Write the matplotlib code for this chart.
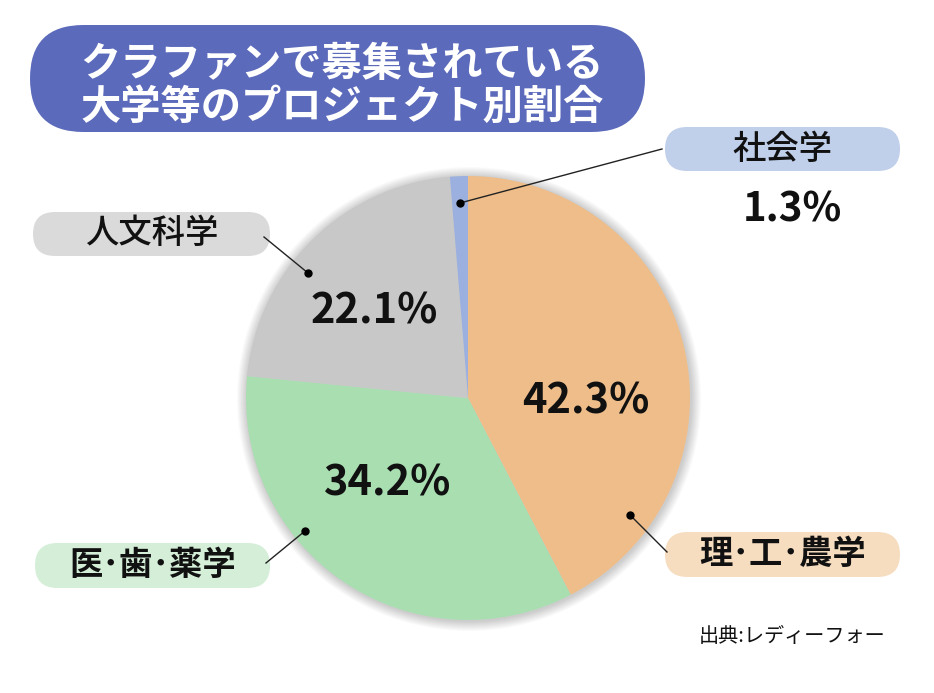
import matplotlib.pyplot as plt
from matplotlib.patches import FancyBboxPatch

plt.rcParams['font.family'] = ['Noto Sans CJK JP', 'DejaVu Sans']

# data
labels = ['理・工・農学', '医・歯・薬学', '人文科学', '社会学']
values = [42.3, 34.2, 22.1, 1.3]
colors = ['#EEBD89', '#A9DEB1', '#C8C8C8', '#9BB0DE']
box_colors = ['#F6DDC0', '#D4EED8', '#DADADA', '#C0CFEA']
label_weights = ['bold', 'bold', 'medium', 'medium']
title_lines = ['クラファンで募集されている', '大学等のプロジェクト別割合']
source = '出典:レディーフォー'

W, H = 934, 693
fig = plt.figure(figsize=(W / 100, H / 100), dpi=100)
ax = fig.add_axes([0, 0, 1, 1])


def py(y):
    # pixel row -> data y
    return H - y


def pill(x0, y0, x1, y1, color):
    r = (y1 - y0) / 2
    p = FancyBboxPatch((x0, py(y1)), x1 - x0, y1 - y0,
                       boxstyle=f'round,pad=0,rounding_size={r}',
                       fc=color, ec='none', zorder=2)
    ax.add_patch(p)


# pie with a soft shadow
cx, cy, R = 468, 398, 222
for i in range(10):
    ax.add_patch(plt.Circle((cx + 1, py(cy + 1)), R + 10 - i, color='black',
                            alpha=0.018, lw=0, zorder=0))
ax.pie(values, colors=colors, startangle=90, counterclock=False,
       center=(cx, py(cy)), radius=R, frame=True,
       wedgeprops=dict(linewidth=0, zorder=1))
ax.set_xlim(0, W)
ax.set_ylim(0, H)
ax.set_aspect('equal')
ax.axis('off')

# title
pill(30, 25, 645, 132, '#5B6ABB')
ax.text(342, py(64), title_lines[0], color='white', fontsize=29, fontweight='bold',
        ha='center', va='center', zorder=3)
ax.text(342, py(107), title_lines[1], color='white', fontsize=29, fontweight='bold',
        ha='center', va='center', zorder=3)

# percent labels inside
pct_pos = [(586, 402), (388, 483), (374, 311)]
for v, (x, y) in zip(values[:3], pct_pos):
    ax.text(x, py(y), f'{v}%', fontsize=30, fontweight='bold', ha='center',
            va='center', color='#111111', zorder=4)
ax.text(792, py(210), f'{values[3]}%', fontsize=29, fontweight='bold', ha='center',
        va='center', color='#111111', zorder=4)

# category boxes
boxes = [(665, 532, 900, 577), (35, 543, 270, 588), (33, 212, 270, 256), (665, 127, 900, 171)]
for lab, (x0, y0, x1, y1), bc, fw in zip(labels, boxes, box_colors, label_weights):
    pill(x0, y0, x1, y1, bc)
    ax.text((x0 + x1) / 2, py((y0 + y1) / 2), lab.replace('・', '･'), fontsize=24,
            fontweight=fw, ha='center', va='center', color='#111111', zorder=3)

# leader lines
leaders = [((667, 552), (630, 515)), ((266, 563), (305, 531)),
           ((264, 237), (308, 273)), ((662, 149), (460, 203))]
for (x0, y0), (x1, y1) in leaders:
    ax.plot([x0, x1], [py(y0), py(y1)], color='#222222', lw=1, zorder=3)
    ax.plot(x1, py(y1), 'o', color='black', ms=5, zorder=4)

ax.text(792, py(636), source, fontsize=14.5, ha='center', va='center', color='#111111')

fig.savefig('out.png', dpi=100, facecolor='white')
